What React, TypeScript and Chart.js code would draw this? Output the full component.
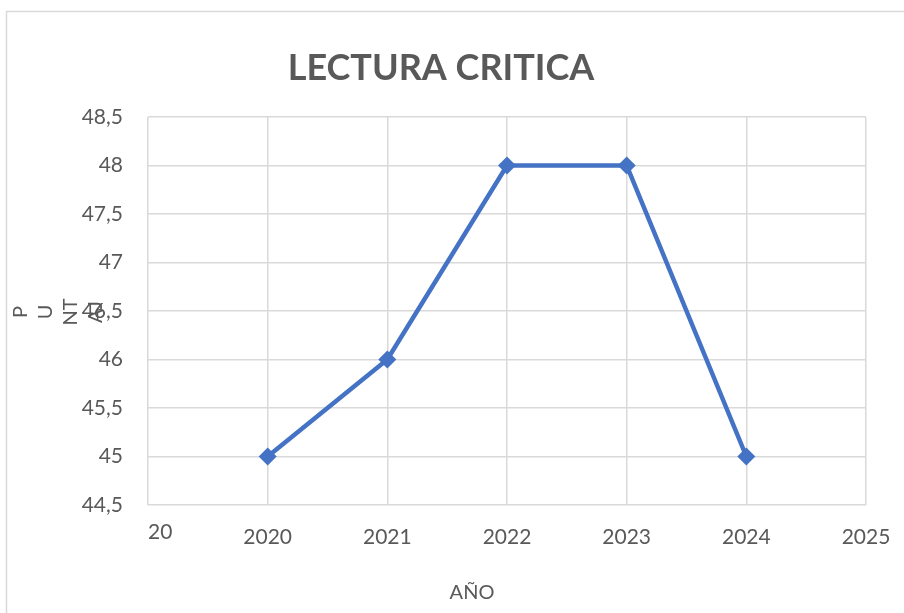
import React, { useEffect, useRef } from "react";
import { Chart, registerables } from "chart.js";

Chart.register(...registerables);

const years = [2020, 2021, 2022, 2023, 2024];
const scores = [45, 46, 48, 48, 45];
const chartTitle = "LECTURA CRITICA";
const xAxisTitle = "AÑO";
const yAxisTitleLines = ["P", "U", "NT", "AJ"];
const firstXTickLabel = "20";

const FONT = "Lato, 'Liberation Sans', sans-serif";
const TEXT = "#595959";
const GRID = "#d9d9d9";
const BLUE = "#4472C4";

const decor = {
  id: "decor",
  beforeDraw(chart: any) {
    const ctx = chart.ctx;
    ctx.save();
    ctx.fillStyle = "#ffffff";
    ctx.fillRect(0, 0, chart.width, chart.height);
    ctx.strokeStyle = GRID;
    ctx.lineWidth = 1.5;
    ctx.strokeRect(6.5, 11.5, chart.width + 10, chart.height + 10);
    ctx.restore();
  },
  afterDraw(chart: any) {
    const ctx = chart.ctx;
    const x = chart.scales.x;
    ctx.save();
    ctx.fillStyle = TEXT;
    ctx.textBaseline = "middle";
    ctx.font = `bold 36px ${FONT}`;
    ctx.textAlign = "center";
    ctx.fillText(chartTitle, 441, 68);
    ctx.font = `20px ${FONT}`;
    ctx.fillText(xAxisTitle, 472, 593);
    ctx.font = `21px ${FONT}`;
    ctx.textAlign = "left";
    ctx.fillText(firstXTickLabel, x.getPixelForValue(2019), 532);
    ctx.font = `20px ${FONT}`;
    ctx.textAlign = "center";
    yAxisTitleLines.forEach((line, i) => {
      ctx.save();
      ctx.translate(21 + i * 25, 312);
      ctx.rotate(-Math.PI / 2);
      ctx.fillText(line, 0, 0);
      ctx.restore();
    });
    ctx.restore();
  },
};

export default function App() {
  const ref = useRef<HTMLCanvasElement | null>(null);
  useEffect(() => {
    if (!ref.current) return;
    const chart = new Chart(ref.current, {
      type: "line",
      data: {
        datasets: [
          {
            data: years.map((y, i) => ({ x: y, y: scores[i] })),
            borderColor: BLUE,
            backgroundColor: BLUE,
            borderWidth: 4.5,
            pointStyle: "rectRot",
            pointRadius: 9,
            pointBorderWidth: 0,
            tension: 0,
          },
        ],
      },
      options: {
        animation: false,
        responsive: false,
        layout: { padding: { left: 0, top: 117, right: 38, bottom: 0 } },
        plugins: { legend: { display: false }, tooltip: { enabled: false }, title: { display: false } },
        scales: {
          x: {
            type: "linear",
            min: 2019,
            max: 2025,
            ticks: {
              stepSize: 1,
              padding: 20,
              color: TEXT,
              font: { family: FONT, size: 21 },
              callback: (v: any) => (v === 2019 ? "" : String(v)),
            },
            grid: { color: GRID, lineWidth: 1.5, drawTicks: false },
            border: { display: false },
            afterFit: (s: any) => {
              s.height = 108;
              s.paddingLeft = 0;
              s.paddingRight = 0;
            },
          },
          y: {
            min: 44.5,
            max: 48.5,
            ticks: {
              stepSize: 0.5,
              padding: 25,
              color: TEXT,
              font: { family: FONT, size: 21 },
              callback: (v: any) => String(v).replace(".", ","),
            },
            grid: { color: GRID, lineWidth: 1.5, drawTicks: false },
            border: { display: false },
            afterFit: (s: any) => {
              s.width = 148;
              s.paddingTop = 0;
              s.paddingBottom = 0;
            },
          },
        },
      },
      plugins: [decor],
    });
    return () => chart.destroy();
  }, []);
  return (
    <div style={{ position: "absolute", left: 0, top: 0, width: 904, height: 613 }}>
      <canvas ref={ref} width={904} height={613} style={{ width: 904, height: 613 }} />
    </div>
  );
}
